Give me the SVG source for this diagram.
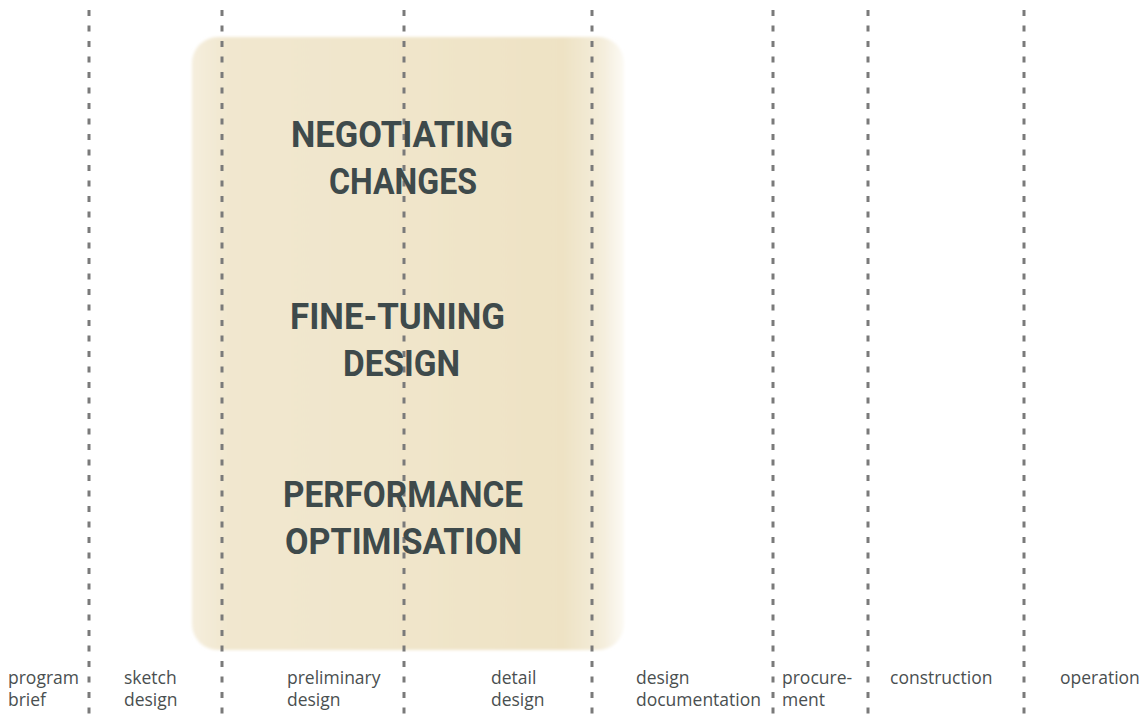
<svg xmlns="http://www.w3.org/2000/svg" width="1144" height="715" viewBox="0 0 1144 715">
  <defs>
    <linearGradient id="band" x1="0" y1="0" x2="1" y2="0">
      <stop offset="0" stop-color="#f5eedd"/>
      <stop offset="0.08" stop-color="#f1e7cf"/>
      <stop offset="0.5" stop-color="#f0e5ca"/>
      <stop offset="0.86" stop-color="#eee2c4"/>
      <stop offset="0.95" stop-color="#f4eddb"/>
      <stop offset="1" stop-color="#fcfaf4"/>
    </linearGradient>
    <filter id="soft" x="-5%" y="-5%" width="110%" height="110%">
      <feGaussianBlur stdDeviation="1.5"/>
    </filter>
  </defs>
  <style>
    .phase { stroke: #7a7a7a; stroke-width: 3; stroke-dasharray: 6 9.5; fill: none; }
    .title { font-family: Roboto, "DejaVu Sans", sans-serif; font-weight: 700; font-size: 37px; fill: #3e4a4b; text-anchor: middle; }
    .label { font-family: "Open Sans", "DejaVu Sans", sans-serif; font-size: 17.5px; fill: #4a4f50; }
  </style>

  <rect width="1144" height="715" fill="#ffffff"/>

  <!-- highlighted design band -->
  <rect x="192" y="37" width="432" height="613" rx="26" fill="url(#band)" filter="url(#soft)"/>

  <!-- phase separators -->
  <g id="connectors">
    <line class="phase" x1="89" y1="10" x2="89" y2="715"/>
    <line class="phase" x1="222" y1="10" x2="222" y2="715"/>
    <line class="phase" x1="404" y1="10" x2="404" y2="715"/>
    <line class="phase" x1="592" y1="10" x2="592" y2="715"/>
    <line class="phase" x1="773" y1="10" x2="773" y2="715"/>
    <line class="phase" x1="868" y1="10" x2="868" y2="715"/>
    <line class="phase" x1="1024" y1="10" x2="1024" y2="715"/>
  </g>

  <!-- activities -->
  <g id="negotiating">
    <text class="title" x="402" y="147" textLength="222" lengthAdjust="spacingAndGlyphs">NEGOTIATING</text>
    <text class="title" x="403" y="194" textLength="148" lengthAdjust="spacingAndGlyphs">CHANGES</text>
  </g>
  <g id="finetuning">
    <text class="title" x="397.5" y="329" textLength="215" lengthAdjust="spacingAndGlyphs">FINE-TUNING</text>
    <text class="title" x="401.5" y="376" textLength="117" lengthAdjust="spacingAndGlyphs">DESIGN</text>
  </g>
  <g id="performance">
    <text class="title" x="403" y="507" textLength="240" lengthAdjust="spacingAndGlyphs">PERFORMANCE</text>
    <text class="title" x="403.5" y="554" textLength="237" lengthAdjust="spacingAndGlyphs">OPTIMISATION</text>
  </g>

  <!-- phase labels -->
  <g id="phase-program-brief">
    <text class="label" x="8" y="684">program</text>
    <text class="label" x="8" y="706">brief</text>
  </g>
  <g id="phase-sketch-design">
    <text class="label" x="124" y="684">sketch</text>
    <text class="label" x="124" y="706">design</text>
  </g>
  <g id="phase-preliminary-design">
    <text class="label" x="287" y="684">preliminary</text>
    <text class="label" x="287" y="706">design</text>
  </g>
  <g id="phase-detail-design">
    <text class="label" x="491" y="684">detail</text>
    <text class="label" x="491" y="706">design</text>
  </g>
  <g id="phase-design-documentation">
    <text class="label" x="636" y="684">design</text>
    <text class="label" x="636" y="706">documentation</text>
  </g>
  <g id="phase-procurement">
    <text class="label" x="782" y="684">procure-</text>
    <text class="label" x="782" y="706">ment</text>
  </g>
  <g id="phase-construction">
    <text class="label" x="890" y="684">construction</text>
  </g>
  <g id="phase-operation">
    <text class="label" x="1060" y="684">operation</text>
  </g>
</svg>
